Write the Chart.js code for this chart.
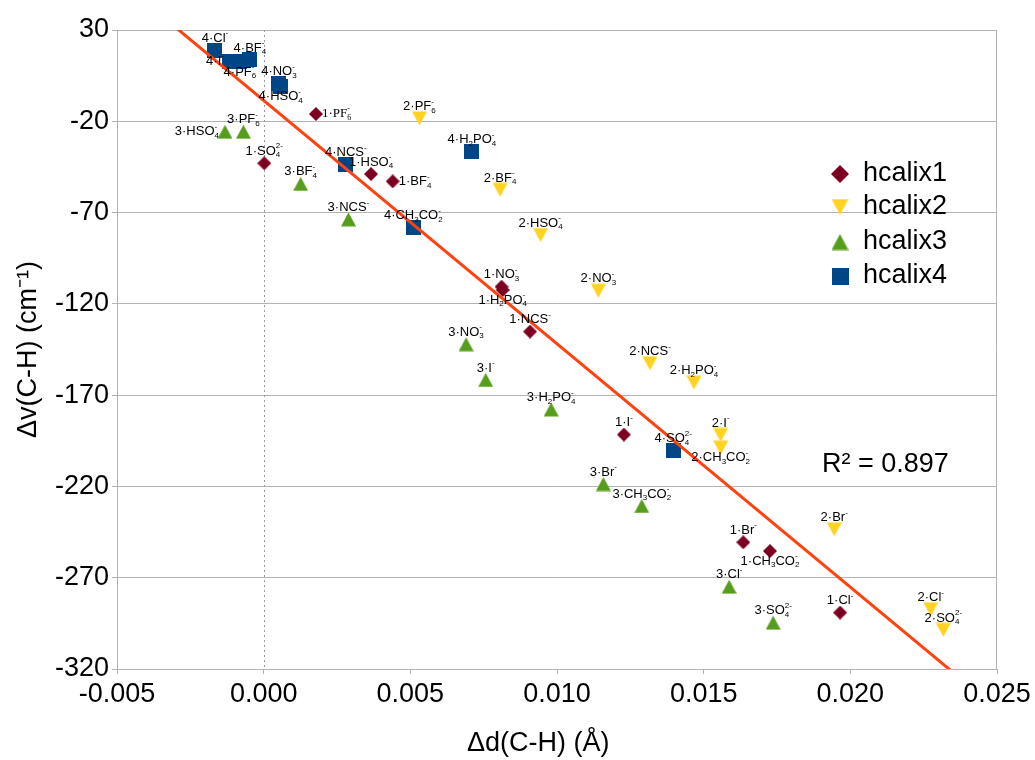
<!DOCTYPE html>
<html>
<head>
<meta charset="utf-8">
<script src="https://cdn.jsdelivr.net/npm/chart.js@4.4.0/dist/chart.umd.min.js"></script>
<style>
 body { margin: 0; background: #fff; }
 #wrap { width: 1035px; height: 760px; }
</style>
</head>
<body>
<div id="wrap"><canvas id="calixChart" width="1035" height="760"></canvas></div>
<script>
// values: x = Δd(C-H) in Å, y = Δv(C-H) in cm-1
var hcalix1X = [0.00178, 0.00002, 0.00366, 0.00440, 0.00811, 0.00815, 0.00908, 0.01228, 0.01635, 0.01726, 0.01965];
var hcalix1Y = [-16.0, -43.0, -48.9, -52.9, -110.6, -112.4, -135.2, -191.6, -250.6, -255.4, -289.1];
var hcalix1Labels = ["1·PF_6^-", "1·SO_4^2-", "1·HSO_4^-", "1·BF_4^-", "1·NO_3^-", "1·H_2PO_4^-", "1·NCS^-", "1·I^-", "1·Br^-", "1·CH_3CO_2^-", "1·Cl^-"];

var hcalix2X = [0.00531, 0.00806, 0.00944, 0.01141, 0.01317, 0.01467, 0.01558, 0.01558, 0.01945, 0.02274, 0.02317];
var hcalix2Y = [-18.4, -57.6, -82.3, -112.8, -152.6, -163.2, -191.8, -198.8, -243.5, -287.3, -298.6];
var hcalix2Labels = ["2·PF_6^-", "2·BF_4^-", "2·HSO_4^-", "2·NO_3^-", "2·NCS^-", "2·H_2PO_4^-", "2·I^-", "2·CH_3CO_2^-", "2·Br^-", "2·Cl^-", "2·SO_4^2-"];

var hcalix3X = [-0.00132, -0.00069, 0.00126, 0.00289, 0.00690, 0.00757, 0.00980, 0.01158, 0.01289, 0.01587, 0.01737];
var hcalix3Y = [-25.7, -25.7, -54.3, -73.7, -142.1, -161.7, -177.8, -218.7, -230.7, -274.9, -294.6];
var hcalix3Labels = ["3·HSO_4^-", "3·PF_6^-", "3·BF_4^-", "3·NCS^-", "3·NO_3^-", "3·I^-", "3·H_2PO_4^-", "3·Br^-", "3·CH_3CO_2^-", "3·Cl^-", "3·SO_4^2-"];

var hcalix4X = [-0.00166, -0.00115, -0.00081, -0.00047, 0.00052, 0.00058, 0.00280, 0.00710, 0.00510, 0.01396];
var hcalix4Y = [19.0, 13.0, 12.5, 13.6, 0.5, -1.0, -43.6, -36.5, -78.1, -200.4];
var hcalix4Labels = ["4·Cl^-", "4·I^-", "4·PF_6^-", "4·BF_4^-", "4·NO_3^-", "4·HSO_4^-", "4·NCS^-", "4·H_2PO_4^-", "4·CH_3CO_2^-", "4·SO_4^2-"];

var seriesNames = ["hcalix1", "hcalix2", "hcalix3", "hcalix4"];
var xTicks = { min: -0.005, max: 0.025, step: 0.005 };
var yTicks = { min: -320, max: 30, step: 50 };
var r2Text = "R² = 0.897";

// label placement (default is above the marker)
var labelSpots = {
 "1·PF_6^-": "right",
 "1·BF_4^-": "right",
 "1·H_2PO_4^-": "below",
 "1·CH_3CO_2^-": "below",
 "2·CH_3CO_2^-": "below",
 "3·HSO_4^-": "left",
 "4·I^-": "left",
 "4·PF_6^-": "below",
 "4·HSO_4^-": "below",
};
var serifLabels = ["1·PF_6^-"];

var SANS = '"Liberation Sans", Arial, sans-serif';
var SERIF = '"Liberation Serif", "Times New Roman", serif';
var colors = ["#7e0021", "#ffd320", "#579d1c", "#004586"];
var shapes = ["diamond", "down", "up", "square"];

function makeMarker(shape, color, size) {
 var c = document.createElement("canvas");
 c.width = size;
 c.height = size;
 var g = c.getContext("2d");
 g.fillStyle = color;
 g.beginPath();
 if (shape === "diamond") {
  g.moveTo(size / 2, 0);
  g.lineTo(size, size / 2);
  g.lineTo(size / 2, size);
  g.lineTo(0, size / 2);
 } else if (shape === "down") {
  g.moveTo(0, 0.5);
  g.lineTo(size, 0.5);
  g.lineTo(size / 2, size - 0.5);
 } else if (shape === "up") {
  g.moveTo(size / 2, 0.5);
  g.lineTo(size, size - 0.5);
  g.lineTo(0, size - 0.5);
 } else {
  g.rect(0, 0, size, size);
 }
 g.closePath();
 g.fill();
 return c;
}

var markerSizes = [14, 15, 15, 15];
var plotMarkers = shapes.map(function (s, i) { return makeMarker(s, colors[i], markerSizes[i]); });
var legendMarkers = shapes.map(function (s, i) { return makeMarker(s, colors[i], i === 0 ? 18 : 17); });

function toPoints(xs, ys) {
 return xs.map(function (x, i) {
  return { x: x, y: ys[i] };
 });
}

var allX = hcalix1X.concat(hcalix2X, hcalix3X, hcalix4X);
var allY = hcalix1Y.concat(hcalix2Y, hcalix3Y, hcalix4Y);

// least squares trend line through every point
function linearFit(xs, ys) {
 var n = xs.length, sx = 0, sy = 0, sxx = 0, sxy = 0;
 for (var i = 0; i < n; i++) {
  sx += xs[i];
  sy += ys[i];
  sxx += xs[i] * xs[i];
  sxy += xs[i] * ys[i];
 }
 var slope = (n * sxy - sx * sy) / (n * sxx - sx * sx);
 return { slope: slope, icpt: (sy - slope * sx) / n };
}
var fit = linearFit(allX, allY);
var trendPoints = [xTicks.min, xTicks.max].map(function (x) {
 return { x: x, y: fit.icpt + fit.slope * x };
});

function parseLabel(text) {
 var runs = [], i = 0;
 while (i < text.length) {
  var c = text.charAt(i);
  if (c === "_") {
   runs.push({ kind: "sub", t: text.charAt(i + 1) });
   i += 2;
  } else if (c === "^") {
   runs.push({ kind: "sup", t: text.slice(i + 1) });
   i = text.length;
  } else {
   var last = runs[runs.length - 1];
   if (last && last.kind === "txt") last.t += c;
   else runs.push({ kind: "txt", t: c });
   i++;
  }
 }
 return runs;
}

function drawRichLabel(ctx, text, px, py, spot) {
 var family = serifLabels.indexOf(text) >= 0 ? SERIF : SANS;
 var big = "13px " + family, small = "8px " + family;
 var runs = parseLabel(text);
 var width = 0, prevSub = null;
 runs.forEach(function (r) {
  ctx.font = r.kind === "txt" ? big : small;
  r.w = ctx.measureText(r.t).width;
  if (r.kind === "sup" && prevSub) {
   r.dx = prevSub.dx;
   width = Math.max(width, r.dx + r.w);
  } else {
   r.dx = width;
   width += r.w;
  }
  prevSub = r.kind === "sub" ? r : null;
 });

 var left = px - width / 2, mid = py - 12;
 if (spot === "below") mid = py + 10;
 if (spot === "right") { left = px + 6; mid = py; }
 if (spot === "left") { left = px - 6 - width; mid = py; }

 ctx.fillStyle = "#000";
 ctx.textBaseline = "middle";
 ctx.textAlign = "left";
 runs.forEach(function (r) {
  ctx.font = r.kind === "txt" ? big : small;
  var dy = r.kind === "sub" ? 4 : r.kind === "sup" ? -5 : 0;
  ctx.fillText(r.t, left + r.dx, mid + dy);
 });
}

var allLabels = [hcalix1Labels, hcalix2Labels, hcalix3Labels, hcalix4Labels];

var extrasPlugin = {
 id: "extras",
 beforeDatasetsDraw: function (chart) {
  var ctx = chart.ctx, area = chart.chartArea;
  var x0 = Math.round(chart.scales.x.getPixelForValue(0)) + 0.5;
  ctx.save();
  ctx.lineWidth = 1;
  ctx.strokeStyle = "#9a9a9a";
  ctx.setLineDash([2, 3]);
  ctx.beginPath();
  ctx.moveTo(x0, area.top);
  ctx.lineTo(x0, area.bottom);
  ctx.stroke();
  ctx.setLineDash([]);
  ctx.strokeStyle = "#b3b3b3";
  var xr = Math.round(area.right) - 0.5;
  ctx.beginPath();
  ctx.moveTo(xr, area.top);
  ctx.lineTo(xr, area.bottom);
  ctx.stroke();
  ctx.restore();
 },
 afterDatasetsDraw: function (chart) {
  var ctx = chart.ctx;
  ctx.save();
  allLabels.forEach(function (labels, di) {
   var meta = chart.getDatasetMeta(di);
   meta.data.forEach(function (pt, j) {
    drawRichLabel(ctx, labels[j], pt.x, pt.y, labelSpots[labels[j]] || "above");
   });
  });

  // legend
  var rows = [174, 207, 242, 276];
  ctx.font = "27px " + SANS;
  ctx.fillStyle = "#000";
  ctx.textBaseline = "middle";
  ctx.textAlign = "left";
  seriesNames.forEach(function (name, i) {
   var m = legendMarkers[i];
   ctx.drawImage(m, 840 - m.width / 2, rows[i] - m.height / 2);
   ctx.fillText(name, 863, rows[i]);
  });

  ctx.fillText(r2Text, 822, 465);
  ctx.restore();
 },
};

function scatterSet(i, xs, ys) {
 return {
  label: seriesNames[i],
  data: toPoints(xs, ys),
  pointStyle: plotMarkers[i],
  backgroundColor: colors[i],
  borderColor: colors[i],
  borderWidth: 0,
  order: 1,
 };
}

var tickFont = { family: SANS, size: 27 };

new Chart(document.getElementById("calixChart"), {
 type: "scatter",
 data: {
  datasets: [
   scatterSet(0, hcalix1X, hcalix1Y),
   scatterSet(1, hcalix2X, hcalix2Y),
   scatterSet(2, hcalix3X, hcalix3Y),
   scatterSet(3, hcalix4X, hcalix4Y),
   {
    type: "line",
    label: "trend",
    data: trendPoints,
    borderColor: "#ff420e",
    borderWidth: 3,
    pointRadius: 0,
    fill: false,
    order: 0,
   },
  ],
 },
 options: {
  responsive: false,
  animation: false,
  layout: { padding: { left: 0, right: 38, top: 30, bottom: 0 } },
  plugins: {
   legend: { display: false },
   tooltip: { enabled: false },
  },
  scales: {
   x: {
    type: "linear",
    min: xTicks.min,
    max: xTicks.max,
    ticks: {
     stepSize: xTicks.step,
     font: tickFont,
     color: "#000",
     padding: 4,
     maxRotation: 0,
     callback: function (v) {
      return Math.abs(v) < 1e-9 ? "0.000" : v.toFixed(3);
     },
    },
    grid: { drawOnChartArea: false, tickLength: 5, color: "#b3b3b3" },
    border: { color: "#b3b3b3" },
    title: {
     display: true,
     text: "Δd(C-H) (Å)     ",
     font: tickFont,
     color: "#000",
     padding: { top: 0, bottom: 0 },
    },
    afterFit: function (scale) {
     scale.height = 91;
    },
   },
   y: {
    type: "linear",
    min: yTicks.min,
    max: yTicks.max,
    ticks: { stepSize: yTicks.step, font: tickFont, color: "#000", padding: 3 },
    grid: { color: "#b3b3b3", tickLength: 5 },
    border: { color: "#b3b3b3" },
    title: {
     display: true,
     text: "Δv(C-H) (cm⁻¹)",
     font: tickFont,
     color: "#000",
     padding: { top: 12, bottom: 0 },
    },
    afterFit: function (scale) {
     scale.width = 117;
    },
   },
  },
 },
 plugins: [extrasPlugin],
});
</script>
</body>
</html>
